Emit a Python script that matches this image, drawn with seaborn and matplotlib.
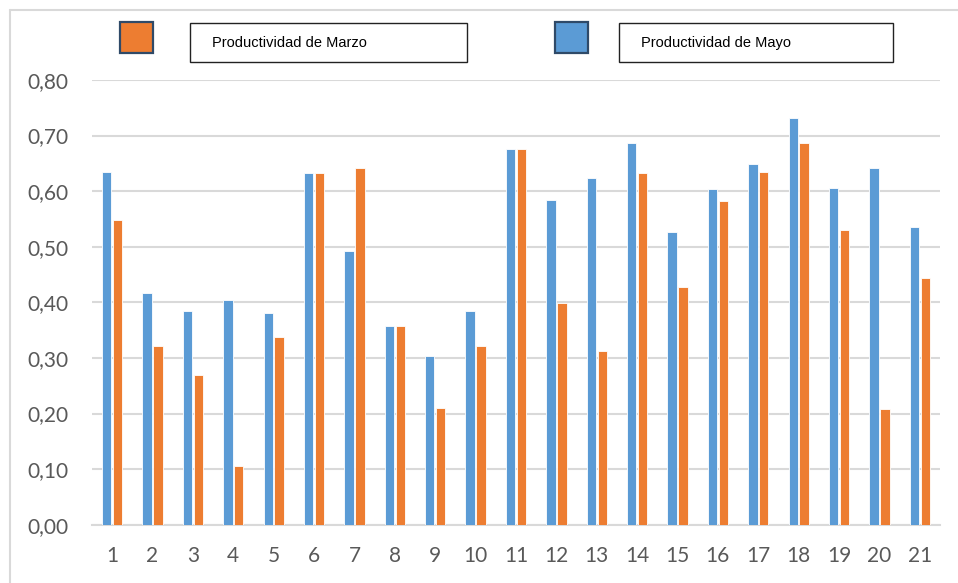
import matplotlib
matplotlib.use("Agg")
import matplotlib.pyplot as plt
import seaborn as sns
import pandas as pd
from matplotlib.patches import Rectangle
from matplotlib.lines import Line2D
from matplotlib.ticker import FixedLocator, FuncFormatter

# Productivity per worker (1..21) for May and March
items = [str(i) for i in range(1, 22)]
mayo = [0.634, 0.416, 0.385, 0.405, 0.380, 0.632, 0.492, 0.358, 0.303, 0.385, 0.675,
        0.584, 0.624, 0.687, 0.527, 0.603, 0.648, 0.731, 0.606, 0.642, 0.535]
marzo = [0.549, 0.321, 0.270, 0.106, 0.338, 0.632, 0.642, 0.358, 0.210, 0.321, 0.675,
         0.399, 0.312, 0.632, 0.428, 0.583, 0.634, 0.687, 0.531, 0.208, 0.443]
label_mayo = "Productividad de Mayo"
label_marzo = "Productividad de Marzo"
y_ticks = [0.0, 0.1, 0.2, 0.3, 0.4, 0.5, 0.6, 0.7, 0.8]

BLUE = "#5B9BD5"
ORANGE = "#ED7D31"
GRID = "#D9D9D9"
TEXT = "#595959"

df = pd.DataFrame({
    "item": items * 2,
    "valor": mayo + marzo,
    "serie": [label_mayo] * len(items) + [label_marzo] * len(items),
})

sns.set_style("white")
plt.rcParams["font.family"] = ["Lato", "DejaVu Sans"]

fig = plt.figure(figsize=(9.58, 5.83), dpi=100)
ax = fig.add_axes([0.0960, 0.1000, 0.8852, 0.7628])

sns.barplot(data=df, x="item", y="valor", hue="serie",
            hue_order=[label_mayo, label_marzo],
            palette=[BLUE, ORANGE], saturation=1, order=items,
            width=0.54, gap=0.14, edgecolor="white", linewidth=0.6,
            legend=False, ax=ax, zorder=3)

ax.set_ylim(0, 0.8)
ax.set_xlim(-0.5, len(items) - 0.5)
ax.yaxis.set_major_locator(FixedLocator(y_ticks))
ax.yaxis.set_major_formatter(FuncFormatter(lambda v, _: f"{v:.2f}".replace(".", ",")))
ax.grid(axis="y", color=GRID, linewidth=1.5, zorder=0)
ax.set_axisbelow(True)
for side in ["left", "right", "top"]:
    ax.spines[side].set_visible(False)
ax.spines["bottom"].set_color(GRID)
ax.spines["bottom"].set_linewidth(1.5)
ax.set_xlabel("")
ax.set_ylabel("")
ax.tick_params(axis="y", length=0, pad=17, labelsize=15, labelcolor=TEXT)
ax.tick_params(axis="x", length=0, pad=15, labelsize=15, labelcolor=TEXT)

# Outer frame (left and top edges)
W, H = 958, 583
def fx(px):
    return px / W
def fy(py):
    return 1 - py / H

fig.add_artist(Line2D([fx(10), fx(10)], [fy(10), 0], color=GRID, linewidth=1.5))
fig.add_artist(Line2D([fx(10), 1], [fy(10), fy(10)], color=GRID, linewidth=1.5))

# Legend: colour swatch plus a framed label box per series
legend_font = ["Liberation Sans Narrow", "Liberation Sans", "DejaVu Sans"]
for color, label, sq_x, box_x0, box_x1 in [
    (ORANGE, label_marzo, 120, 190, 467),
    (BLUE, label_mayo, 555, 619, 893),
]:
    fig.add_artist(Rectangle((fx(sq_x), fy(53)), 33 / W, 31 / H,
                             facecolor=color, edgecolor="#2F4A68", linewidth=1.6,
                             transform=fig.transFigure))
    fig.add_artist(Rectangle((fx(box_x0), fy(62)), (box_x1 - box_x0) / W, 39 / H,
                             facecolor="white", edgecolor="#222222", linewidth=1.0,
                             transform=fig.transFigure))
    fig.text(fx(box_x0 + 22), fy(43), label, ha="left", va="center",
             fontsize=10.5, color="#000000", family=legend_font)

fig.savefig("out.png", dpi=100)
